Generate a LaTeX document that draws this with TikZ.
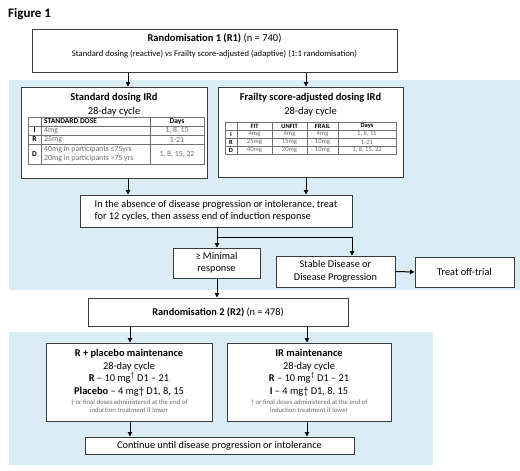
\documentclass[tikz,border=0pt]{standalone}
\usepackage{fontspec}
\setmainfont{Carlito}
\usetikzlibrary{arrows.meta,calc}
\definecolor{bgblue}{HTML}{DAEDF4}
\definecolor{edgec}{HTML}{3A3A3A}
\definecolor{valgray}{HTML}{6A6A6A}
\definecolor{gridc}{HTML}{707070}
\begin{document}
\begin{tikzpicture}[x=1pt,y=-1pt,
  bx/.style={draw=edgec,fill=white,line width=1pt,inner sep=0pt},
  txt/.style={inner sep=0pt,align=center,font=\fontsize{10.3}{12.5}\selectfont},
  ttl/.style={inner sep=0pt,font=\bfseries\fontsize{10.5}{12}\selectfont},
  sub/.style={inner sep=0pt,font=\fontsize{10.5}{12}\selectfont},
  tb/.style={inner sep=0pt,font=\fontsize{7.8}{8.5}\selectfont,text=valgray},
  th/.style={inner sep=0pt,font=\bfseries\fontsize{7.5}{8.5}\selectfont},
  tbs/.style={inner sep=0pt,font=\fontsize{6.6}{7.5}\selectfont,text=valgray},
  ths/.style={inner sep=0pt,font=\bfseries\fontsize{6.5}{7.5}\selectfont},
  fn/.style={inner sep=0pt,align=center,font=\fontsize{6.8}{8.2}\selectfont,text=valgray},
  grid/.style={draw=gridc,line width=0.5pt},
  arr/.style={-{Triangle[length=4.5pt,width=4.5pt]},line width=1pt,draw=black}]
\useasboundingbox (0,0) rectangle (520,471);
% backgrounds
\fill[bgblue] (9,80) rectangle (520,290);
\fill[bgblue] (9,332) rectangle (433,465);
\node[anchor=base west,inner sep=0pt,font=\bfseries\fontsize{13}{15}\selectfont] (fig) at (8,17) {Figure 1};
% R1
\node[bx,minimum width=365pt,minimum height=43pt] (r1) at (214.5,50.5) {};
\node[txt] (r1t) at (214.5,46) {\fontsize{10.5}{12}\selectfont\textbf{Randomisation 1 (R1)} (n = 740)\\[3pt]
  \fontsize{8.6}{10}\selectfont Standard dosing (reactive) \textit{vs} Frailty score-adjusted (adaptive) (1:1 randomisation)};
% Standard dosing box
\node[bx,minimum width=186pt,minimum height=91pt] (std) at (114,132.5) {};
\node[ttl] (stdt) at (114,98) {Standard dosing IRd};
\node[sub] (stdc) at (114,111.5) {28-day cycle};
\draw[grid] (28,117) rectangle (204,164);
\draw[grid] (28,126) -- (204,126) (28,135) -- (204,135) (28,144) -- (204,144);
\draw[grid] (41,117) -- (41,164) (150,117) -- (150,164);
\node[th,anchor=west] (sh1) at (44,121.5) {STANDARD DOSE};
\node[th] (sh2) at (177,121.5) {Days};
\node[th] (sI) at (34.5,130.5) {I};
\node[tb,anchor=west] (sI1) at (44,130.5) {4mg};
\node[tb] (sI2) at (177,130.5) {1, 8, 15};
\node[th] (sR) at (34.5,139.5) {R};
\node[tb,anchor=west] (sR1) at (44,139.5) {25mg};
\node[tb] (sR2) at (177,139.5) {1-21};
\node[th] (sD) at (34.5,154) {D};
\node[tb,anchor=west] (sD1) at (44,149.5) {40mg in participants ≤75yrs};
\node[tb,anchor=west] (sD2) at (44,158.5) {20mg in participants >75 yrs};
\node[tb] (sD3) at (177,154) {1, 8, 15, 22};
% Frailty box
\node[bx,minimum width=185pt,minimum height=90pt] (frail) at (310.5,132) {};
\node[ttl] (frt) at (310.5,98) {Frailty score-adjusted dosing IRd};
\node[sub] (frc) at (310.5,111.5) {28-day cycle};
\draw[grid] (225,122) rectangle (396,154);
\draw[grid] (225,130) -- (396,130) (225,138) -- (396,138) (225,146) -- (396,146);
\draw[grid] (237,122) -- (237,154) (272,122) -- (272,154) (307,122) -- (307,154) (338,122) -- (338,154);
\node[ths] (fh1) at (254.5,126) {FIT};
\node[ths] (fh2) at (289.5,126) {UNFIT};
\node[ths] (fh3) at (322.5,126) {FRAIL};
\node[ths] (fh4) at (367,126) {Days};
\node[ths] (fI) at (231,134) {I};
\node[tbs] (fI1) at (254.5,134) {4mg};
\node[tbs] (fI2) at (289.5,134) {4mg};
\node[tbs] (fI3) at (322.5,134) {4mg};
\node[tbs] (fI4) at (367,134) {1, 8, 15};
\node[ths] (fR) at (231,142) {R};
\node[tbs] (fR1) at (254.5,142) {25mg};
\node[tbs] (fR2) at (289.5,142) {15mg};
\node[tbs] (fR3) at (322.5,142) {10mg};
\node[tbs] (fR4) at (367,142) {1-21};
\node[ths] (fD) at (231,150) {D};
\node[tbs] (fD1) at (254.5,150) {40mg};
\node[tbs] (fD2) at (289.5,150) {20mg};
\node[tbs] (fD3) at (322.5,150) {10mg};
\node[tbs] (fD4) at (367,150) {1, 8, 15, 22};
% treatment
\node[bx,minimum width=272pt,minimum height=32pt] (treat) at (216,211) {};
\node[txt,align=left] (treatt) at (216,211) {In the absence of disease progression or intolerance, treat\\for 12 cycles, then assess end of induction response};
\node[bx,txt,minimum width=87pt,minimum height=30pt] (minr) at (216.5,263) {≥ Minimal\\response};
\node[bx,txt,minimum width=119pt,minimum height=31pt] (stable) at (335.5,271.5) {Stable Disease or\\Disease Progression};
\node[bx,txt,minimum width=99pt,minimum height=30pt] (off) at (464.5,272) {Treat off-trial};
% R2
\node[bx,txt,minimum width=260pt,minimum height=28pt] (r2) at (218,312) {\textbf{Randomisation 2 (R2)} (n = 478)};
% maintenance boxes
\node[bx,minimum width=166pt,minimum height=78pt] (rpl) at (129,382) {};
\node[txt,font=\fontsize{10.4}{12.5}\selectfont] (rplt) at (129,372.5) {\textbf{R + placebo maintenance}\\28-day cycle\\\textbf{R} – 10 mg\textsuperscript{†} D1 – 21\\\textbf{Placebo} – 4 mg† D1, 8, 15};
\node[fn] (rplf) at (129,406) {† or final doses administered at the end of\\induction treatment if lower};
\node[bx,minimum width=164pt,minimum height=78pt] (ir) at (309,382) {};
\node[txt,font=\fontsize{10.4}{12.5}\selectfont] (irt) at (309,372.5) {\textbf{IR maintenance}\\28-day cycle\\\textbf{R} – 10 mg\textsuperscript{†} D1 – 21\\\textbf{I} – 4 mg† D1, 8, 15};
\node[fn] (irf) at (309,406) {† or final doses administered at the end of\\induction treatment if lower};
\node[bx,txt,minimum width=269pt,minimum height=17pt] (cont) at (219.5,445.5) {Continue until disease progression or intolerance};
% connectors
\coordinate (xa) at (128,0);
\coordinate (xb) at (306,0);
\coordinate (xc) at (217,0);
\coordinate (xd) at (352,0);
\coordinate (xe) at (130,0);
\coordinate (xf) at (307,0);
\coordinate (br) at (217,237);
\draw[arr] (r1.south -| xa) -- (std.north -| xa);
\draw[arr] (r1.south -| xb) -- (frail.north -| xb);
\draw[arr] (std.south -| xa) -- (treat.north -| xa);
\draw[arr] (frail.south -| xb) -- (treat.north -| xb);
\draw[arr] (treat.south -| xc) -- (minr.north -| xc);
\draw[arr] (br) -| (stable.north -| xd);
\draw[arr] (stable.east) -- (off.west);
\draw[arr] (minr.south -| xc) -- (r2.north -| xc);
\draw[arr] (r2.south -| xe) -- (rpl.north -| xe);
\draw[arr] (r2.south -| xf) -- (ir.north -| xf);
\draw[arr] (rpl.south -| xe) -- (cont.north -| xe);
\draw[arr] (ir.south -| xf) -- (cont.north -| xf);
\end{tikzpicture}
\end{document}
